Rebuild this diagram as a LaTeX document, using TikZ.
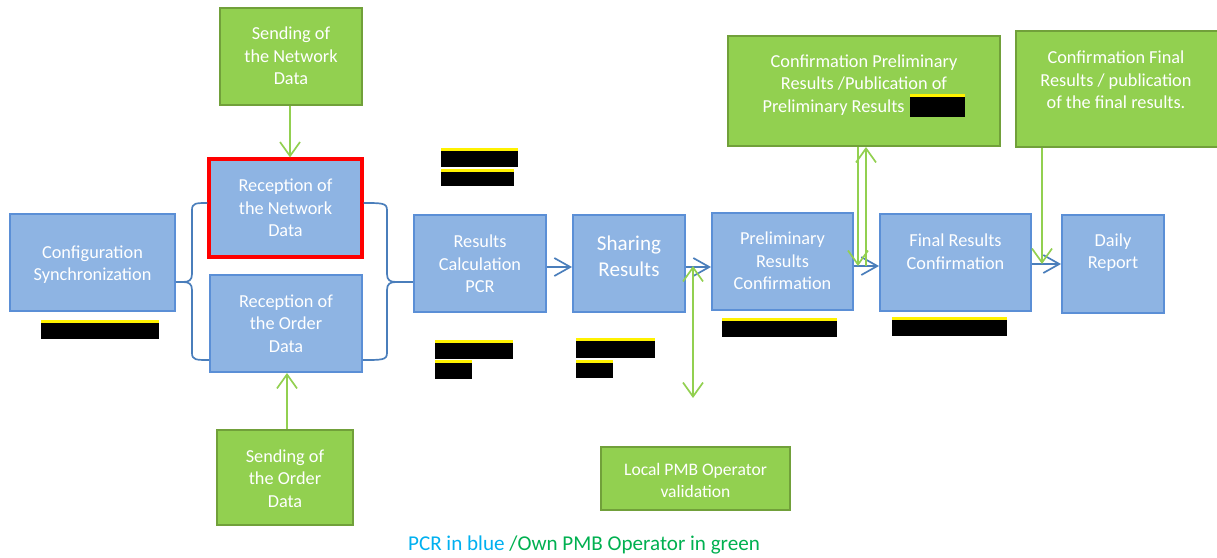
\documentclass[tikz,border=0pt]{standalone}
\usepackage{fontspec}
\setmainfont{Carlito}
\usetikzlibrary{arrows.meta,fit}
\definecolor{bfill}{HTML}{8EB4E3}
\definecolor{bline}{HTML}{5B8FD6}
\definecolor{aline}{HTML}{4A7EBB}
\definecolor{gfill}{HTML}{92D050}
\definecolor{gline}{HTML}{71A03A}
\definecolor{garrow}{HTML}{92D050}
\definecolor{legblue}{HTML}{00B0F0}
\definecolor{leggreen}{HTML}{00B050}
\newcommand\redbar[4]{\fill[black] (#1,#2) rectangle (#3,#4);\fill[yellow] (#1,#2) rectangle (#3,#2+3);}
\begin{document}
\begin{tikzpicture}[x=0.025cm,y=-0.025cm,
  bluebox/.style={draw=bline,fill=bfill,line width=1.4pt,inner sep=0pt},
  redbox/.style={draw=red,fill=bfill,line width=2.2pt,inner sep=0pt},
  greenbox/.style={draw=gline,fill=gfill,line width=1.4pt,inner sep=0pt},
  txt/.style={text=white,align=center,inner sep=0pt,font=\fontsize{13}{16}\selectfont},
  brace/.style={draw=aline,line width=1.2pt},
  barrow/.style={draw=aline,line width=1.2pt,-{Straight Barb[length=4mm,width=4.5mm]}},
  garr/.style={draw=garrow,line width=1.2pt,-{Straight Barb[length=3.5mm,width=5mm]}},
  garr2/.style={draw=garrow,line width=1.2pt,{Straight Barb[length=3.5mm,width=5mm]}-{Straight Barb[length=3.5mm,width=5mm]}}]
\useasboundingbox (0,0) rectangle (1217,558);
\begin{scope}
\clip (0,0) rectangle (1217,558);
% boxes
\node[bluebox,fit={(10,214) (175,311)}] (cfg) {};
\node[redbox,fit={(209,159) (362,257)}] (recnet) {};
\node[bluebox,fit={(210,275) (362,372)}] (record) {};
\node[greenbox,fit={(220,8) (362,105)}] (sendnet) {};
\node[greenbox,fit={(217,430) (353,525)}] (sendord) {};
\node[bluebox,fit={(414,215) (546,312)}] (calc) {};
\node[bluebox,fit={(573,215) (685,312)}] (share) {};
\node[bluebox,fit={(712,213) (853,310)}] (prelim) {};
\node[bluebox,fit={(880,214) (1031,311)}] (final) {};
\node[bluebox,fit={(1062,215) (1164,313)}] (daily) {};
\node[greenbox,fit={(728,36) (1000,146)}] (confp) {};
\node[greenbox,fit={(1016,31) (1220,147)}] (conff) {};
\node[greenbox,fit={(601,447) (790,510)}] (local) {};
\end{scope}
% texts
\node[txt] (tcfg) at (92.5,264.5) {Configuration\\Synchronization};
\node[txt] (trecnet) at (285.5,208) {Reception of\\the Network\\Data};
\node[txt] (trecord) at (286,323.5) {Reception of\\the Order\\Data};
\node[txt] (tsendnet) at (291,56) {Sending of\\the Network\\Data};
\node[txt] (tsendord) at (285,478.5) {Sending of\\the Order\\Data};
\node[txt] (tcalc) at (480,264) {Results\\Calculation\\PCR};
\node[txt,font=\fontsize{15}{18.5}\selectfont] (tshare) at (629,256) {Sharing\\Results};
\node[txt] (tprelim) at (782.5,261) {Preliminary\\Results\\Confirmation};
\node[txt] (tfinal) at (955.5,251.5) {Final Results\\Confirmation};
\node[txt] (tdaily) at (1113,252.5) {Daily\\Report};
\node[txt] (tconfp) at (864,85) {Confirmation Preliminary\\Results /Publication of\\Preliminary Results\hspace*{1.52cm}};
\node[txt] (tconff) at (1116,80) {Confirmation Final\\Results / publication\\of the final results.};
\node[txt,font=\fontsize{12.5}{15}\selectfont] (tlocal) at (695.5,480.5) {Local PMB Operator\\validation};
\node[inner sep=0pt,font=\fontsize{15}{18}\selectfont] (legend) at (584,545) {\textcolor{legblue}{PCR in blue }\textcolor{leggreen}{/Own PMB Operator in green}};
% braces
\coordinate (lb) at (183,282);
\coordinate (rb) at (396,282);
\draw[brace] (cfg.east |- lb) -- (lb);
\draw[brace] (recnet.west |- 0,203) .. controls (196,203) and (192,203) .. (192,210) -- (192,274)
  .. controls (192,280) and (189,282) .. (lb) .. controls (189,282) and (192,284) .. (192,290)
  -- (192,353) .. controls (192,360) and (196,360) .. (record.west |- 0,360);
\draw[brace] (recnet.east |- 0,203) .. controls (382,203) and (387,203) .. (387,210) -- (387,274)
  .. controls (387,280) and (390,282) .. (rb) .. controls (390,282) and (387,284) .. (387,290)
  -- (387,353) .. controls (387,360) and (382,360) .. (record.east |- 0,360);
\draw[brace] (rb) -- (calc.west |- rb);
% blue arrows
\draw[barrow] (calc.east |- 0,267) -- (share.west |- 0,267);
\draw[barrow] (share.east |- 0,267) -- (prelim.west |- 0,267);
\draw[barrow] (prelim.east |- 0,266) -- (final.west |- 0,266);
\draw[barrow] (final.east |- 0,264) -- (daily.west |- 0,264);
% green arrows
\draw[garr] (sendnet.south -| 290,0) -- (recnet.north -| 290,0);
\draw[garr] (sendord.north -| 287,0) -- (record.south -| 287,0);
\coordinate (vtop) at (693,266);
\coordinate (vbot) at (693,398);
\draw[garr2] (vtop) -- (vbot);
\coordinate (pd) at (858,266);
\coordinate (pu) at (866,266);
\draw[garr] (confp.south -| pd) -- (pd);
\draw[garr] (pu) -- (confp.south -| pu);
\coordinate (fd) at (1042,264);
\draw[garr] (conff.south -| fd) -- (fd);
% redaction bars
\redbar{41}{320}{159}{339}
\redbar{441}{148}{518}{167}
\redbar{441}{169}{514}{186}
\redbar{435}{340}{513}{359}
\redbar{435}{360}{472}{379}
\redbar{576}{338}{655}{358}
\redbar{576}{360}{613}{378}
\redbar{722}{318}{837}{337}
\redbar{892}{317}{1007}{336}
\redbar{910}{94}{965}{117}
\end{tikzpicture}
\end{document}
